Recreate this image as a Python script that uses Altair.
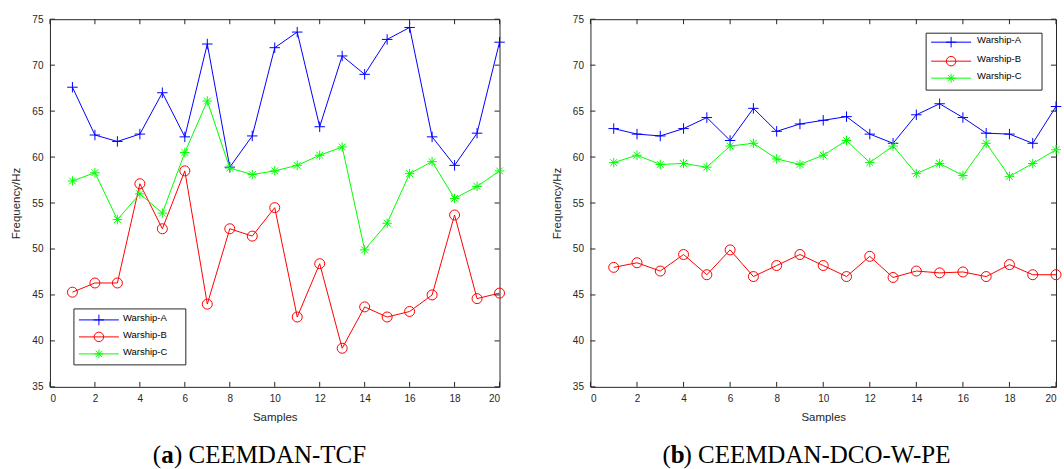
import altair as alt
import pandas as pd

samples = list(range(1, 21))
series_names = ["Warship-A", "Warship-B", "Warship-C"]

# (a) CEEMDAN-TCF
tcf_a = [67.6, 62.4, 61.7, 62.5, 67.0, 62.2, 72.3, 58.9, 62.3, 71.9,
         73.6, 63.3, 71.0, 69.0, 72.8, 74.1, 62.2, 59.1, 62.6, 72.5]
tcf_b = [45.3, 46.3, 46.3, 57.1, 52.2, 58.5, 44.0, 52.2, 51.4, 54.5,
         42.6, 48.4, 39.2, 43.7, 42.6, 43.2, 45.0, 53.7, 44.6, 45.2]
tcf_c = [57.4, 58.3, 53.2, 56.0, 53.9, 60.5, 66.1, 58.8, 58.1, 58.5,
         59.1, 60.2, 61.1, 49.9, 52.8, 58.2, 59.5, 55.5, 56.8, 58.5]

# (b) CEEMDAN-DCO-W-PE
dco_a = [63.1, 62.5, 62.3, 63.1, 64.3, 61.8, 65.3, 62.8, 63.6, 64.0,
         64.4, 62.5, 61.5, 64.6, 65.8, 64.3, 62.6, 62.5, 61.5, 65.5]
dco_b = [48.0, 48.5, 47.6, 49.4, 47.2, 49.9, 47.0, 48.2, 49.4, 48.2,
         47.0, 49.2, 46.9, 47.6, 47.4, 47.5, 47.0, 48.3, 47.2, 47.2]
dco_c = [59.4, 60.2, 59.2, 59.3, 58.9, 61.2, 61.5, 59.8, 59.2, 60.2,
         61.8, 59.4, 61.2, 58.2, 59.3, 58.0, 61.5, 57.9, 59.3, 60.8]

x_ticks = list(range(0, 21, 2))
y_ticks = list(range(35, 76, 5))

colors = ["#0000ff", "#ff0000", "#00ff00"]
PLUS = "M-1,0L1,0M0,-1L0,1"
STAR = "M-1,0L1,0M0,-1L0,1M-0.72,-0.72L0.72,0.72M-0.72,0.72L0.72,-0.72"
shapes = [PLUS, "circle", STAR]
sizes = [110, 90, 80]
AX = "#262626"
H = 368


def panel(a, b, c, w, leg, cap_x, letter, rest):
    df = pd.DataFrame({
        "sample": samples * 3,
        "value": a + b + c,
        "series": [series_names[0]] * 20 + [series_names[1]] * 20 + [series_names[2]] * 20,
    })
    xs = alt.Scale(domain=[0, 20], nice=False, zero=False)
    ys = alt.Scale(domain=[35, 75], nice=False, zero=False)
    xax = alt.Axis(values=x_ticks, title="Samples", format="d")
    yax = alt.Axis(values=y_ticks, title="Frequency/Hz", format="d")
    X = alt.X("sample:Q", scale=xs, axis=xax)
    Y = alt.Y("value:Q", scale=ys, axis=yax)
    color = alt.Color("series:N", scale=alt.Scale(domain=series_names, range=colors), legend=None)
    shape = alt.Shape("series:N", scale=alt.Scale(domain=series_names, range=shapes), legend=None)
    size = alt.Size("series:N", scale=alt.Scale(domain=series_names, range=sizes), legend=None)

    base = alt.Chart(df)
    lines = base.mark_line(strokeWidth=1).encode(x=X, y=Y, color=color, detail="series:N")
    pts = base.mark_point(filled=False, strokeWidth=1, opacity=1).encode(
        x=X, y=Y, color=color, shape=shape, size=size)

    xt = pd.DataFrame({"sample": x_ticks})
    yt = pd.DataFrame({"value": y_ticks})
    tb = alt.Chart(xt).mark_rule(color=AX, strokeWidth=1).encode(x=X, y=alt.value(H), y2=alt.value(H - 5))
    tt = alt.Chart(xt).mark_rule(color=AX, strokeWidth=1).encode(x=X, y=alt.value(0), y2=alt.value(5))
    tl = alt.Chart(yt).mark_rule(color=AX, strokeWidth=1).encode(y=Y, x=alt.value(0), x2=alt.value(5))
    tr = alt.Chart(yt).mark_rule(color=AX, strokeWidth=1).encode(y=Y, x=alt.value(w), x2=alt.value(w - 5))

    one = pd.DataFrame({"k": [0]})
    lx0, ly0, lx1, ly1, rows, l0, l1, mx, tx = leg
    layers = [lines, pts, tb, tt, tl, tr]
    layers.append(alt.Chart(one).mark_rect(fill="white", stroke=AX, strokeWidth=1).encode(
        x=alt.value(lx0), x2=alt.value(lx1), y=alt.value(ly0), y2=alt.value(ly1)))
    for i, name in enumerate(series_names):
        yy = rows[i]
        layers.append(alt.Chart(one).mark_rule(color=colors[i], strokeWidth=1).encode(
            x=alt.value(l0), x2=alt.value(l1), y=alt.value(yy)))
        layers.append(alt.Chart(one).mark_point(filled=False, strokeWidth=1, opacity=1, color=colors[i],
                                                shape=shapes[i], size=sizes[i]).encode(
            x=alt.value(mx), y=alt.value(yy)))
        layers.append(alt.Chart(one).mark_text(text=name, align="left", baseline="middle",
                                               font="Liberation Sans", fontSize=9.5, color="#000000").encode(
            x=alt.value(tx), y=alt.value(yy - 2)))

    # caption
    cy = 444
    layers.append(alt.Chart(one).mark_text(text="(", align="left", baseline="alphabetic",
                                           font="Liberation Serif", fontSize=25, color="#000").encode(
        x=alt.value(cap_x), y=alt.value(cy)))
    layers.append(alt.Chart(one).mark_text(text=letter, align="left", baseline="alphabetic",
                                           font="Liberation Serif", fontSize=25, fontWeight="bold",
                                           color="#000").encode(
        x=alt.value(cap_x + 8.3), y=alt.value(cy)))
    layers.append(alt.Chart(one).mark_text(text=rest, align="left", baseline="alphabetic",
                                           font="Liberation Serif", fontSize=25, color="#000").encode(
        x=alt.value(cap_x + 8.3 + 12.8), y=alt.value(cy)))

    return alt.layer(*layers).properties(width=w, height=H)


left = panel(tcf_a, tcf_b, tcf_c, 450,
             (24, 290, 136, 346, [301, 318, 335], 29, 69, 49, 73),
             103, "a", ") CEEMDAN-TCF")
right = panel(dco_a, dco_b, dco_c, 466,
              (336, 14, 452, 71, [23, 42, 59], 341, 381, 361, 387),
              72, "b", ") CEEMDAN-DCO-W-PE")

chart = alt.hconcat(left, right, spacing=43).properties(
    padding={"left": 10, "top": 13, "right": 0, "bottom": 0}
).configure_view(stroke=AX, strokeWidth=1).configure_axis(
    grid=False, ticks=False, domain=False,
    labelFont="Liberation Sans", labelFontSize=10, labelColor=AX, labelPadding=7,
    titleFont="Liberation Sans", titleFontSize=11.5, titleFontWeight="normal", titleColor=AX,
).configure_axisX(titlePadding=8).configure_axisY(titlePadding=10)

chart.save("out.html", embed_options={"renderer": "svg", "actions": False})
